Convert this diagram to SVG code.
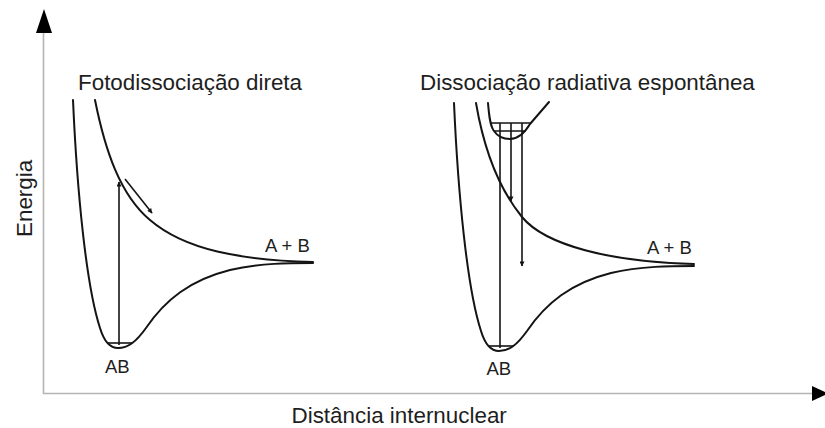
<svg xmlns="http://www.w3.org/2000/svg" width="825" height="428" viewBox="0 0 825 428">
<style>
.axis{fill:none;stroke:#b4b4b4;stroke-width:1.6}
.curve{fill:none;stroke:#141414;stroke-width:2;stroke-linecap:round;stroke-linejoin:round}
.thin{fill:none;stroke:#141414;stroke-width:1.6}
.head{fill:#000}
text{font-family:"Liberation Sans",Arial,sans-serif;fill:#1e1e1e}
.t22{font-size:22.4px}
.t18{font-size:18.5px}
</style>
<defs>
<marker id="ah" viewBox="0 0 10 10" refX="9" refY="5" markerWidth="7" markerHeight="5" orient="auto" markerUnits="userSpaceOnUse">
<path d="M0,0 L10,5 L0,10 z" fill="#141414"/>
</marker>
</defs>
<rect width="825" height="428" fill="#fff"/>
<g id="axes">
<path class="axis" d="M43.5,32 V393.5 H813"/>
<polygon class="head" points="44,9 36,33 52,33"/>
<polygon class="head" points="812,386 812,401 828,393.5"/>
<text class="t22" transform="translate(32,237) rotate(-90)">Energia</text>
<text class="t22" x="291.5" y="423">Distância internuclear</text>
</g>
<g id="left-panel">
<text class="t22" x="78" y="90">Fotodissociação direta</text>
<path class="curve" d="M73,100 C77,190 86,285 100,328 C103,338 108,348 118,348 C128,348 136,342 146,328 C165,300 190,280 230,270 C260,263 290,263 313,263"/>
<path class="thin" d="M107,343 H132"/>
<path class="curve" d="M95,100 C105,150 120,195 150,220 C185,250 240,260 313,262"/>
<text class="t18" x="265" y="252">A + B</text>
<text class="t18" x="105" y="373">AB</text>
</g>
<g id="right-panel">
<text class="t22" x="420" y="90">Dissociação radiativa espontânea</text>
<g transform="translate(381,3)">
<path class="curve" d="M73,100 C77,190 86,285 100,328 C103,338 108,348 118,348 C128,348 136,342 146,328 C165,300 190,280 230,270 C260,263 290,263 313,263"/>
<path class="thin" d="M107,343 H132"/>
</g>
<path class="curve" d="M476,103 C484,150 500,190 522,217 C545,245 610,262 694,264"/>
<path class="curve" d="M488,103 C489,115 490,126 494,131 C498,137 504,139 510,139 C518,139 524,134 530,124 L549,102"/>
<path class="thin" d="M490.5,123 H531 M494,131 H526"/>
<text class="t18" x="647" y="254">A + B</text>
<text class="t18" x="486.5" y="375">AB</text>
</g>
<g id="connectors">
<path class="thin" d="M119,345 V182" marker-end="url(#ah)"/>
<path class="thin" d="M125,179 L152,213" marker-end="url(#ah)"/>
<path class="thin" d="M500,348 V123"/>
<path class="thin" d="M511,123 V201" marker-end="url(#ah)"/>
<path class="thin" d="M522,123 V266" marker-end="url(#ah)"/>
</g>
</svg>
